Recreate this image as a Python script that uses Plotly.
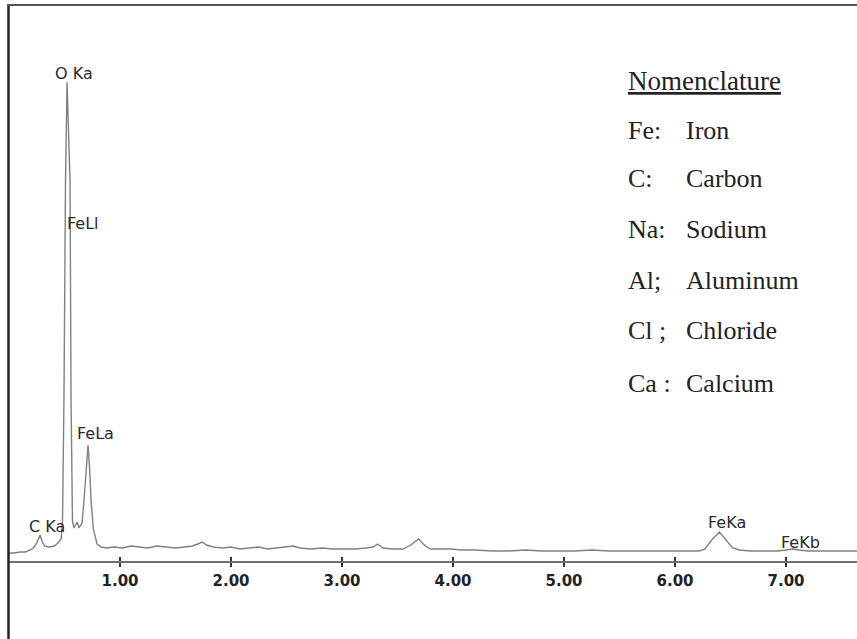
import plotly.graph_objects as go

# ---- data ----
energy_kev = [0.00, 0.05, 0.10, 0.15, 0.19, 0.22, 0.25, 0.28, 0.30, 0.32, 0.36, 0.41, 0.44, 0.47,
              0.482, 0.495, 0.509, 0.523, 0.536, 0.550, 0.559, 0.572, 0.585, 0.600, 0.615, 0.630,
              0.645, 0.658, 0.676, 0.695, 0.712, 0.725, 0.739, 0.760, 0.793, 0.83, 0.88, 0.95,
              1.02, 1.10, 1.18, 1.25, 1.33, 1.42, 1.50, 1.58, 1.65, 1.70, 1.74, 1.78, 1.84, 1.92,
              2.00, 2.08, 2.16, 2.25, 2.33, 2.42, 2.50, 2.56, 2.62, 2.72, 2.82, 2.92, 3.02, 3.12,
              3.22, 3.28, 3.32, 3.37, 3.45, 3.55, 3.62, 3.69, 3.75, 3.80, 3.88, 3.98, 4.08, 4.20,
              4.35, 4.50, 4.65, 4.80, 4.95, 5.10, 5.25, 5.40, 5.55, 5.70, 5.85, 6.00, 6.12, 6.22,
              6.27, 6.33, 6.40, 6.46, 6.52, 6.58, 6.68, 6.80, 6.92, 7.00, 7.06, 7.12, 7.20, 7.32,
              7.45, 7.64]
counts = [8, 8, 9, 9, 11, 13, 18, 26, 19, 15, 14, 15, 18, 22,
          40, 160, 380, 479, 430, 380, 160, 40, 33, 36, 39, 33,
          36, 38, 61, 95, 116, 95, 61, 32, 17, 14, 13, 14,
          13, 15, 14, 13, 15, 14, 13, 14, 15, 17, 19, 16, 14, 13,
          14, 12, 13, 14, 12, 13, 14, 15, 13, 12, 13, 12, 12, 12,
          13, 14, 17, 13, 12, 12, 16, 22, 15, 12, 12, 12, 11, 11,
          10, 10, 11, 10, 10, 10, 11, 10, 10, 10, 10, 10, 10, 10,
          12, 21, 29, 21, 13, 11, 10, 10, 10, 11, 12, 11, 10, 10,
          10, 10]

tick_vals = [1, 2, 3, 4, 5, 6, 7]
tick_text = ["1.00", "2.00", "3.00", "4.00", "5.00", "6.00", "7.00"]

peak_labels = ["O Ka", "FeLl", "FeLa", "C Ka", "FeKa", "FeKb"]
peak_label_x = [0.585, 0.505, 0.775, 0.342, 6.47, 7.13]
peak_label_y = [488, 338, 128, 35, 39, 19]
peak_label_anchor = ["center", "left", "center", "center", "center", "center"]

nomen_title = "Nomenclature"
nomen_symbols = ["Fe:", "C:", "Na:", "Al;", "Cl ;", "Ca :"]
nomen_names = ["Iron", "Carbon", "Sodium", "Aluminum", "Chloride", "Calcium"]

W, H = 857, 639
X0_PX, UNIT_PX = 9, 111.0
Y_AXIS_PX, Y_TOP_PX = 561, 61

fig = go.Figure()
fig.add_trace(go.Scatter(x=energy_kev, y=counts, mode="lines",
                         line=dict(color="#808080", width=1.4), hoverinfo="skip",
                         showlegend=False))

xrange = [0, (W - X0_PX) / UNIT_PX]
xdom = [X0_PX / W, 1.0]
ydom = [(H - Y_AXIS_PX) / H, (H - Y_TOP_PX) / H]

fig.update_layout(
    width=W, height=H,
    margin=dict(l=0, r=0, t=0, b=0),
    paper_bgcolor="white", plot_bgcolor="white",
    showlegend=False,
    xaxis=dict(domain=xdom, range=xrange, showgrid=False, zeroline=False,
               showline=True, linecolor="#707070", linewidth=2,
               ticks="outside", ticklen=4, tickwidth=1.5, tickcolor="#333",
               tickvals=tick_vals, ticktext=tick_text,
               tickfont=dict(family="DejaVu Sans", size=15, color="#222", weight="bold"),
               ticklabelstandoff=1, anchor="y", fixedrange=True),
    xaxis2=dict(domain=xdom, range=xrange, overlaying="x", anchor="y",
                showgrid=False, zeroline=False, showline=False,
                ticks="inside", ticklen=4, tickwidth=1.5, tickcolor="#333",
                tickvals=tick_vals, showticklabels=False),
    yaxis=dict(domain=ydom, range=[0, Y_AXIS_PX - Y_TOP_PX], visible=False, fixedrange=True),
)
# invisible trace to activate xaxis2 (for the inner half of the tick marks)
fig.add_trace(go.Scatter(x=[], y=[], xaxis="x2", yaxis="y", showlegend=False))

annotations = []
for t, xv, yv, anc in zip(peak_labels, peak_label_x, peak_label_y, peak_label_anchor):
    annotations.append(dict(x=xv, y=yv, xref="x", yref="y", text=t, showarrow=False,
                            xanchor=anc, yanchor="middle",
                            font=dict(family="DejaVu Sans", size=16, color="#2a2a2a")))

def py(p):
    return 1 - p / H

nomen_y_px = [130, 178, 230, 280, 330, 383]
annotations.append(dict(x=626 / W, y=py(81), xref="paper", yref="paper",
                        text="<u>" + nomen_title + "</u>", showarrow=False,
                        xanchor="left", yanchor="middle",
                        font=dict(family="Liberation Serif", size=27, color="#222")))
for s, n, yp in zip(nomen_symbols, nomen_names, nomen_y_px):
    annotations.append(dict(x=626 / W, y=py(yp), xref="paper", yref="paper", text=s,
                            showarrow=False, xanchor="left", yanchor="middle",
                            font=dict(family="Liberation Serif", size=26, color="#222")))
    annotations.append(dict(x=684 / W, y=py(yp), xref="paper", yref="paper", text=n,
                            showarrow=False, xanchor="left", yanchor="middle",
                            font=dict(family="Liberation Serif", size=26, color="#222")))
fig.update_layout(annotations=annotations)

# outer frame (left and top edges)
fig.add_shape(type="line", xref="paper", yref="paper", x0=8.5 / W, x1=8.5 / W, y0=0, y1=py(4),
              line=dict(color="#222", width=2.5))
fig.add_shape(type="line", xref="paper", yref="paper", x0=8 / W, x1=1, y0=py(5), y1=py(5),
              line=dict(color="#555", width=2))

fig.write_html("out.html")
